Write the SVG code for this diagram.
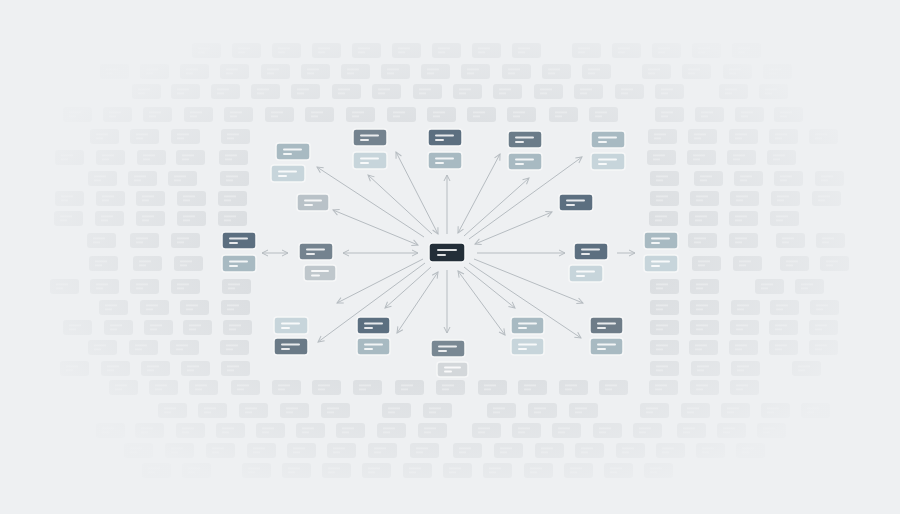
<svg xmlns="http://www.w3.org/2000/svg" xmlns:xlink="http://www.w3.org/1999/xlink" width="900" height="514" viewBox="0 0 900 514">
<defs>
<style>
.bgr{fill:#dbdee1}
.bgl{fill:#e7e9eb}
.nd{stroke:#f6f7f8;stroke-width:1.5}
.tl{fill:#ffffff;opacity:.85}
.c0{fill:#232e38}
.c1{fill:#5c6f80}
.c2{fill:#74838f}
.c3{fill:#a8bac2}
.c4{fill:#c7d5db}
.c5{fill:#b9c2c8}
.c6{fill:#d3d7da}
.cn line{stroke:#b6bcc1;stroke-width:1;fill:none}
</style>
<g id="b">
<rect class="bgr" width="29" height="15" rx="3"/>
<rect class="bgl" x="6" y="4.5" width="12" height="1.8"/>
<rect class="bgl" x="6" y="8.5" width="7" height="1.8"/>
</g>
<radialGradient id="fade" cx="0.5" cy="0.5" r="0.5">
<stop offset="0.45" stop-color="#eef0f2" stop-opacity="0"/>
<stop offset="0.8" stop-color="#eef0f2" stop-opacity="0.55"/>
<stop offset="1" stop-color="#eef0f2" stop-opacity="0.9"/>
</radialGradient>
<marker id="ah" viewBox="0 0 8 8" refX="7" refY="4" markerWidth="8" markerHeight="8" markerUnits="userSpaceOnUse" orient="auto-start-reverse">
<path d="M1,1 L7,4 L1,7" fill="none" stroke="#b6bcc1" stroke-width="1"/>
</marker>
</defs>
<rect width="900" height="514" fill="#eef0f2"/>
<g id="background-grid">
<!-- row 1 -->
<use href="#b" x="192" y="43"/><use href="#b" x="232" y="43"/><use href="#b" x="272" y="43"/><use href="#b" x="312" y="43"/><use href="#b" x="352" y="43"/><use href="#b" x="392" y="43"/><use href="#b" x="432" y="43"/><use href="#b" x="472" y="43"/><use href="#b" x="512" y="43"/><use href="#b" x="572" y="43"/><use href="#b" x="612" y="43"/><use href="#b" x="652" y="43"/><use href="#b" x="692" y="43"/><use href="#b" x="732" y="43"/>
<!-- row 2 -->
<use href="#b" x="100" y="64"/><use href="#b" x="140" y="64"/><use href="#b" x="180" y="64"/><use href="#b" x="220" y="64"/><use href="#b" x="261" y="64"/><use href="#b" x="301" y="64"/><use href="#b" x="341" y="64"/><use href="#b" x="381" y="64"/><use href="#b" x="421" y="64"/><use href="#b" x="461" y="64"/><use href="#b" x="502" y="64"/><use href="#b" x="542" y="64"/><use href="#b" x="582" y="64"/><use href="#b" x="642" y="64"/><use href="#b" x="682" y="64"/><use href="#b" x="723" y="64"/><use href="#b" x="763" y="64"/>
<!-- row 3 -->
<use href="#b" x="132" y="84"/><use href="#b" x="171" y="84"/><use href="#b" x="211" y="84"/><use href="#b" x="251" y="84"/><use href="#b" x="291" y="84"/><use href="#b" x="332" y="84"/><use href="#b" x="372" y="84"/><use href="#b" x="413" y="84"/><use href="#b" x="453" y="84"/><use href="#b" x="493" y="84"/><use href="#b" x="534" y="84"/><use href="#b" x="574" y="84"/><use href="#b" x="615" y="84"/><use href="#b" x="655" y="84"/><use href="#b" x="719" y="84"/><use href="#b" x="759" y="84"/>
<!-- row 4 -->
<use href="#b" x="63" y="107"/><use href="#b" x="103" y="107"/><use href="#b" x="143" y="107"/><use href="#b" x="184" y="107"/><use href="#b" x="224" y="107"/><use href="#b" x="265" y="107"/><use href="#b" x="305" y="107"/><use href="#b" x="346" y="107"/><use href="#b" x="387" y="107"/><use href="#b" x="427" y="107"/><use href="#b" x="467" y="107"/><use href="#b" x="507" y="107"/><use href="#b" x="549" y="107"/><use href="#b" x="589" y="107"/><use href="#b" x="655" y="107"/><use href="#b" x="695" y="107"/><use href="#b" x="735" y="107"/><use href="#b" x="774" y="107"/>
<!-- row 5 -->
<use href="#b" x="90" y="129"/><use href="#b" x="130" y="129"/><use href="#b" x="171" y="129"/><use href="#b" x="221" y="129"/><use href="#b" x="648" y="129"/><use href="#b" x="688" y="129"/><use href="#b" x="729" y="129"/><use href="#b" x="769" y="129"/><use href="#b" x="809" y="129"/>
<!-- row 6 -->
<use href="#b" x="55" y="150"/><use href="#b" x="96" y="150"/><use href="#b" x="137" y="150"/><use href="#b" x="176" y="150"/><use href="#b" x="219" y="150"/><use href="#b" x="647" y="150"/><use href="#b" x="687" y="150"/><use href="#b" x="727" y="150"/><use href="#b" x="767" y="150"/>
<!-- row 7 -->
<use href="#b" x="88" y="171"/><use href="#b" x="128" y="171"/><use href="#b" x="168" y="171"/><use href="#b" x="220" y="171"/><use href="#b" x="650" y="171"/><use href="#b" x="694" y="171"/><use href="#b" x="734" y="171"/><use href="#b" x="774" y="171"/><use href="#b" x="815" y="171"/>
<!-- row 8 -->
<use href="#b" x="55" y="191"/><use href="#b" x="96" y="191"/><use href="#b" x="136" y="191"/><use href="#b" x="177" y="191"/><use href="#b" x="218" y="191"/><use href="#b" x="650" y="191"/><use href="#b" x="690" y="191"/><use href="#b" x="730" y="191"/><use href="#b" x="771" y="191"/><use href="#b" x="812" y="191"/>
<!-- row 9 -->
<use href="#b" x="54" y="211"/><use href="#b" x="95" y="211"/><use href="#b" x="136" y="211"/><use href="#b" x="177" y="211"/><use href="#b" x="218" y="211"/><use href="#b" x="649" y="211"/><use href="#b" x="689" y="211"/><use href="#b" x="729" y="211"/><use href="#b" x="770" y="211"/>
<!-- row 10 -->
<use href="#b" x="87" y="233"/><use href="#b" x="130" y="233"/><use href="#b" x="171" y="233"/><use href="#b" x="688" y="233"/><use href="#b" x="729" y="233"/><use href="#b" x="776" y="233"/><use href="#b" x="816" y="233"/>
<!-- row 11 -->
<use href="#b" x="89" y="256"/><use href="#b" x="133" y="256"/><use href="#b" x="174" y="256"/><use href="#b" x="692" y="256"/><use href="#b" x="733" y="256"/><use href="#b" x="780" y="256"/><use href="#b" x="820" y="256"/>
<!-- row 12 -->
<use href="#b" x="50" y="279"/><use href="#b" x="90" y="279"/><use href="#b" x="130" y="279"/><use href="#b" x="171" y="279"/><use href="#b" x="222" y="279"/><use href="#b" x="650" y="279"/><use href="#b" x="690" y="279"/><use href="#b" x="755" y="279"/><use href="#b" x="795" y="279"/>
<!-- row 13 -->
<use href="#b" x="99" y="300"/><use href="#b" x="140" y="300"/><use href="#b" x="180" y="300"/><use href="#b" x="221" y="300"/><use href="#b" x="650" y="300"/><use href="#b" x="690" y="300"/><use href="#b" x="731" y="300"/><use href="#b" x="770" y="300"/><use href="#b" x="810" y="300"/>
<!-- row 14 -->
<use href="#b" x="63" y="320"/><use href="#b" x="104" y="320"/><use href="#b" x="144" y="320"/><use href="#b" x="183" y="320"/><use href="#b" x="223" y="320"/><use href="#b" x="650" y="320"/><use href="#b" x="690" y="320"/><use href="#b" x="730" y="320"/><use href="#b" x="769" y="320"/><use href="#b" x="809" y="320"/>
<!-- row 15 -->
<use href="#b" x="88" y="340"/><use href="#b" x="129" y="340"/><use href="#b" x="170" y="340"/><use href="#b" x="220" y="340"/><use href="#b" x="650" y="340"/><use href="#b" x="689" y="340"/><use href="#b" x="729" y="340"/><use href="#b" x="769" y="340"/><use href="#b" x="809" y="340"/>
<!-- row 16 -->
<use href="#b" x="60" y="361"/><use href="#b" x="101" y="361"/><use href="#b" x="141" y="361"/><use href="#b" x="181" y="361"/><use href="#b" x="221" y="361"/><use href="#b" x="650" y="361"/><use href="#b" x="691" y="361"/><use href="#b" x="731" y="361"/><use href="#b" x="792" y="361"/>
<!-- row 17 -->
<use href="#b" x="109" y="380"/><use href="#b" x="149" y="380"/><use href="#b" x="189" y="380"/><use href="#b" x="231" y="380"/><use href="#b" x="272" y="380"/><use href="#b" x="312" y="380"/><use href="#b" x="353" y="380"/><use href="#b" x="395" y="380"/><use href="#b" x="436" y="380"/><use href="#b" x="478" y="380"/><use href="#b" x="518" y="380"/><use href="#b" x="559" y="380"/><use href="#b" x="599" y="380"/><use href="#b" x="649" y="380"/><use href="#b" x="690" y="380"/><use href="#b" x="730" y="380"/>
<!-- row 18 -->
<use href="#b" x="158" y="403"/><use href="#b" x="198" y="403"/><use href="#b" x="239" y="403"/><use href="#b" x="280" y="403"/><use href="#b" x="321" y="403"/><use href="#b" x="382" y="403"/><use href="#b" x="423" y="403"/><use href="#b" x="487" y="403"/><use href="#b" x="528" y="403"/><use href="#b" x="569" y="403"/><use href="#b" x="640" y="403"/><use href="#b" x="681" y="403"/><use href="#b" x="721" y="403"/><use href="#b" x="761" y="403"/><use href="#b" x="801" y="403"/>
<!-- row 19 -->
<use href="#b" x="96" y="423"/><use href="#b" x="135" y="423"/><use href="#b" x="176" y="423"/><use href="#b" x="216" y="423"/><use href="#b" x="256" y="423"/><use href="#b" x="296" y="423"/><use href="#b" x="336" y="423"/><use href="#b" x="377" y="423"/><use href="#b" x="418" y="423"/><use href="#b" x="472" y="423"/><use href="#b" x="512" y="423"/><use href="#b" x="552" y="423"/><use href="#b" x="593" y="423"/><use href="#b" x="633" y="423"/><use href="#b" x="677" y="423"/><use href="#b" x="717" y="423"/><use href="#b" x="757" y="423"/>
<!-- row 20 -->
<use href="#b" x="124" y="443"/><use href="#b" x="165" y="443"/><use href="#b" x="206" y="443"/><use href="#b" x="247" y="443"/><use href="#b" x="287" y="443"/><use href="#b" x="327" y="443"/><use href="#b" x="368" y="443"/><use href="#b" x="410" y="443"/><use href="#b" x="453" y="443"/><use href="#b" x="494" y="443"/><use href="#b" x="535" y="443"/><use href="#b" x="575" y="443"/><use href="#b" x="616" y="443"/><use href="#b" x="656" y="443"/><use href="#b" x="696" y="443"/><use href="#b" x="736" y="443"/>
<!-- row 21 -->
<use href="#b" x="142" y="463"/><use href="#b" x="182" y="463"/><use href="#b" x="242" y="463"/><use href="#b" x="282" y="463"/><use href="#b" x="322" y="463"/><use href="#b" x="362" y="463"/><use href="#b" x="403" y="463"/><use href="#b" x="443" y="463"/><use href="#b" x="483" y="463"/><use href="#b" x="524" y="463"/><use href="#b" x="564" y="463"/><use href="#b" x="604" y="463"/><use href="#b" x="644" y="463"/>
</g>
<rect width="900" height="514" fill="url(#fade)"/>
<g id="connectors" class="cn">
<line x1="424" y1="237" x2="317" y2="167" marker-end="url(#ah)"/>
<line x1="432" y1="234" x2="368" y2="175" marker-end="url(#ah)"/>
<line x1="438" y1="234" x2="396" y2="152" marker-start="url(#ah)" marker-end="url(#ah)"/>
<line x1="447" y1="234" x2="447" y2="175" marker-end="url(#ah)"/>
<line x1="458" y1="233" x2="500" y2="154" marker-start="url(#ah)" marker-end="url(#ah)"/>
<line x1="464" y1="236" x2="529" y2="178" marker-end="url(#ah)"/>
<line x1="469" y1="239" x2="582" y2="157" marker-end="url(#ah)"/>
<line x1="475" y1="244" x2="552" y2="212" marker-start="url(#ah)" marker-end="url(#ah)"/>
<line x1="418" y1="245" x2="333" y2="210" marker-start="url(#ah)" marker-end="url(#ah)"/>
<line x1="418" y1="253" x2="343" y2="253" marker-start="url(#ah)" marker-end="url(#ah)"/>
<line x1="477" y1="253" x2="565" y2="253" marker-end="url(#ah)"/>
<line x1="617" y1="253" x2="635" y2="253" marker-end="url(#ah)"/>
<line x1="262" y1="253" x2="288" y2="253" marker-start="url(#ah)" marker-end="url(#ah)"/>
<line x1="423" y1="259" x2="337" y2="303" marker-end="url(#ah)"/>
<line x1="425" y1="263" x2="318" y2="342" marker-end="url(#ah)"/>
<line x1="431" y1="267" x2="385" y2="308" marker-end="url(#ah)"/>
<line x1="438" y1="272" x2="397" y2="333" marker-start="url(#ah)" marker-end="url(#ah)"/>
<line x1="447" y1="270" x2="447" y2="333" marker-end="url(#ah)"/>
<line x1="458" y1="271" x2="505" y2="335" marker-start="url(#ah)" marker-end="url(#ah)"/>
<line x1="464" y1="267" x2="515" y2="308" marker-end="url(#ah)"/>
<line x1="469" y1="263" x2="581" y2="338" marker-end="url(#ah)"/>
<line x1="474" y1="259" x2="583" y2="303" marker-end="url(#ah)"/>
</g>
<g id="center"><rect class="nd c0" x="429" y="243" width="36" height="19" rx="3.5"/><rect class="tl" x="437" y="249" width="20" height="2" rx="1"/><rect class="tl" x="437" y="254" width="9" height="2" rx="1"/></g>
<g id="n1a"><rect class="nd c2" x="353" y="129" width="34" height="17" rx="3"/><rect class="tl" x="360" y="134.5" width="19" height="2" rx="1"/><rect class="tl" x="360" y="139" width="9" height="2" rx="1"/></g>
<g id="n1b"><rect class="nd c4" x="353" y="152" width="34" height="17" rx="3"/><rect class="tl" x="360" y="157.5" width="19" height="2" rx="1"/><rect class="tl" x="360" y="162" width="9" height="2" rx="1"/></g>
<g id="n2a"><rect class="nd c1" x="428" y="129" width="34" height="17" rx="3"/><rect class="tl" x="435" y="134.5" width="19" height="2" rx="1"/><rect class="tl" x="435" y="139" width="9" height="2" rx="1"/></g>
<g id="n2b"><rect class="nd c3" x="428" y="152" width="34" height="17" rx="3"/><rect class="tl" x="435" y="157.5" width="19" height="2" rx="1"/><rect class="tl" x="435" y="162" width="9" height="2" rx="1"/></g>
<g id="n3a"><rect class="nd" fill="#6b7c89" x="508" y="131" width="34" height="17" rx="3"/><rect class="tl" x="515" y="136.5" width="19" height="2" rx="1"/><rect class="tl" x="515" y="141" width="9" height="2" rx="1"/></g>
<g id="n3b"><rect class="nd c3" x="508" y="153" width="34" height="17" rx="3"/><rect class="tl" x="515" y="158.5" width="19" height="2" rx="1"/><rect class="tl" x="515" y="163" width="9" height="2" rx="1"/></g>
<g id="n4a"><rect class="nd c3" x="591" y="131" width="34" height="17" rx="3"/><rect class="tl" x="598" y="136.5" width="19" height="2" rx="1"/><rect class="tl" x="598" y="141" width="9" height="2" rx="1"/></g>
<g id="n4b"><rect class="nd c4" x="591" y="153" width="34" height="17" rx="3"/><rect class="tl" x="598" y="158.5" width="19" height="2" rx="1"/><rect class="tl" x="598" y="163" width="9" height="2" rx="1"/></g>
<g id="n5a"><rect class="nd c3" x="276" y="143" width="34" height="17" rx="3"/><rect class="tl" x="283" y="148.5" width="19" height="2" rx="1"/><rect class="tl" x="283" y="153" width="9" height="2" rx="1"/></g>
<g id="n5b"><rect class="nd c4" x="271" y="165" width="34" height="17" rx="3"/><rect class="tl" x="278" y="170.5" width="19" height="2" rx="1"/><rect class="tl" x="278" y="175" width="9" height="2" rx="1"/></g>
<g id="n6"><rect class="nd c5" x="297" y="194" width="32" height="17" rx="3"/><rect class="tl" x="304" y="199.5" width="18" height="2" rx="1"/><rect class="tl" x="304" y="204" width="9" height="2" rx="1"/></g>
<g id="n7"><rect class="nd c1" x="559" y="194" width="34" height="17" rx="3"/><rect class="tl" x="566" y="199.5" width="19" height="2" rx="1"/><rect class="tl" x="566" y="204" width="9" height="2" rx="1"/></g>
<g id="n8a"><rect class="nd c2" x="299" y="243" width="34" height="17" rx="3"/><rect class="tl" x="306" y="248.5" width="19" height="2" rx="1"/><rect class="tl" x="306" y="253" width="9" height="2" rx="1"/></g>
<g id="n8b"><rect class="nd" fill="#bfc7cc" x="304" y="265" width="32" height="16" rx="3"/><rect class="tl" x="311" y="270" width="18" height="2" rx="1"/><rect class="tl" x="311" y="274.5" width="9" height="2" rx="1"/></g>
<g id="n9a"><rect class="nd c1" x="222" y="232" width="34" height="17" rx="3"/><rect class="tl" x="229" y="237.5" width="19" height="2" rx="1"/><rect class="tl" x="229" y="242" width="9" height="2" rx="1"/></g>
<g id="n9b"><rect class="nd c3" x="222" y="255" width="34" height="17" rx="3"/><rect class="tl" x="229" y="260.5" width="19" height="2" rx="1"/><rect class="tl" x="229" y="265" width="9" height="2" rx="1"/></g>
<g id="n10a"><rect class="nd c1" x="574" y="243" width="34" height="17" rx="3"/><rect class="tl" x="581" y="248.5" width="19" height="2" rx="1"/><rect class="tl" x="581" y="253" width="9" height="2" rx="1"/></g>
<g id="n10b"><rect class="nd c4" x="569" y="265" width="34" height="17" rx="3"/><rect class="tl" x="576" y="270.5" width="19" height="2" rx="1"/><rect class="tl" x="576" y="275" width="9" height="2" rx="1"/></g>
<g id="n11a"><rect class="nd c3" x="644" y="232" width="34" height="17" rx="3"/><rect class="tl" x="651" y="237.5" width="19" height="2" rx="1"/><rect class="tl" x="651" y="242" width="9" height="2" rx="1"/></g>
<g id="n11b"><rect class="nd c4" x="644" y="255" width="34" height="17" rx="3"/><rect class="tl" x="651" y="260.5" width="19" height="2" rx="1"/><rect class="tl" x="651" y="265" width="9" height="2" rx="1"/></g>
<g id="n12a"><rect class="nd c4" x="274" y="317" width="34" height="17" rx="3"/><rect class="tl" x="281" y="322.5" width="19" height="2" rx="1"/><rect class="tl" x="281" y="327" width="9" height="2" rx="1"/></g>
<g id="n12b"><rect class="nd" fill="#6a7a87" x="274" y="338" width="34" height="17" rx="3"/><rect class="tl" x="281" y="343.5" width="19" height="2" rx="1"/><rect class="tl" x="281" y="348" width="9" height="2" rx="1"/></g>
<g id="n13a"><rect class="nd c1" x="357" y="317" width="33" height="17" rx="3"/><rect class="tl" x="364" y="322.5" width="19" height="2" rx="1"/><rect class="tl" x="364" y="327" width="9" height="2" rx="1"/></g>
<g id="n13b"><rect class="nd c3" x="357" y="338" width="33" height="17" rx="3"/><rect class="tl" x="364" y="343.5" width="19" height="2" rx="1"/><rect class="tl" x="364" y="348" width="9" height="2" rx="1"/></g>
<g id="n14a"><rect class="nd" fill="#798893" x="431" y="340" width="34" height="17" rx="3"/><rect class="tl" x="438" y="345.5" width="19" height="2" rx="1"/><rect class="tl" x="438" y="350" width="9" height="2" rx="1"/></g>
<g id="n14b"><rect class="nd c6" x="437" y="362" width="31" height="15" rx="3"/><rect class="tl" x="444" y="366.5" width="17" height="2" rx="1"/><rect class="tl" x="444" y="370.5" width="8" height="2" rx="1"/></g>
<g id="n15a"><rect class="nd c3" x="511" y="317" width="33" height="17" rx="3"/><rect class="tl" x="518" y="322.5" width="19" height="2" rx="1"/><rect class="tl" x="518" y="327" width="9" height="2" rx="1"/></g>
<g id="n15b"><rect class="nd c4" x="511" y="338" width="33" height="17" rx="3"/><rect class="tl" x="518" y="343.5" width="19" height="2" rx="1"/><rect class="tl" x="518" y="348" width="9" height="2" rx="1"/></g>
<g id="n16a"><rect class="nd" fill="#6e7c88" x="590" y="317" width="33" height="17" rx="3"/><rect class="tl" x="597" y="322.5" width="19" height="2" rx="1"/><rect class="tl" x="597" y="327" width="9" height="2" rx="1"/></g>
<g id="n16b"><rect class="nd c3" x="590" y="338" width="33" height="17" rx="3"/><rect class="tl" x="597" y="343.5" width="19" height="2" rx="1"/><rect class="tl" x="597" y="348" width="9" height="2" rx="1"/></g>
</svg>
